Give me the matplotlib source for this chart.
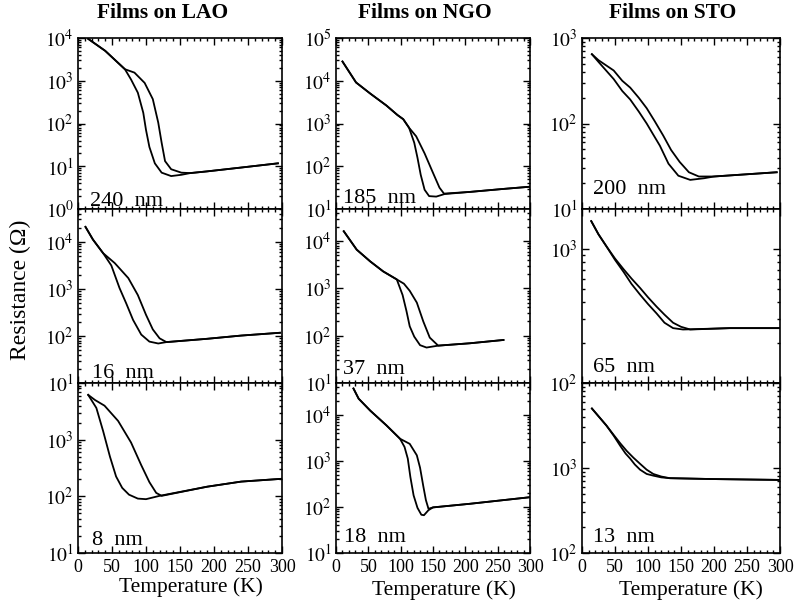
import matplotlib
matplotlib.use('Agg')
import matplotlib.pyplot as plt
from matplotlib.ticker import LogLocator, MultipleLocator, FuncFormatter, NullFormatter
import numpy as np

plt.rcParams['font.family'] = ['Liberation Serif', 'DejaVu Serif']
plt.rcParams['mathtext.fontset'] = 'stix'

# ---------------- data (T in K, R in Ohm) ----------------
# LAO substrate
lao240_T_a = [15, 40, 69, 78, 88, 96, 100, 105, 113, 123, 137, 152, 165, 190, 240, 294]
lao240_R_a = [9550, 5010, 1860, 1070, 525, 178, 70.8, 28.2, 11.7, 7.08, 5.89, 6.31, 6.92, 7.59, 9.33, 11.7]
lao240_T_b = [15, 40, 69, 83, 98, 110, 118, 123, 128, 137, 152, 165, 190, 240, 294]
lao240_R_b = [9550, 5010, 1860, 1550, 891, 372, 105, 35.5, 13.2, 8.51, 7.08, 6.92, 7.59, 9.33, 11.7]

lao16_T_a = [11, 22, 37, 49, 61, 71, 81, 93, 105, 118, 130, 190, 240, 297]
lao16_R_a = [20900, 11200, 5750, 3160, 1050, 490, 219, 107, 75.9, 69.2, 74.1, 87.1, 102, 117]
lao16_T_b = [11, 22, 37, 54, 74, 88, 100, 110, 120, 130, 190, 240, 297]
lao16_R_b = [20900, 11200, 5750, 3550, 1700, 741, 282, 138, 89.1, 74.1, 87.1, 102, 117]

lao8_T_a = [15, 27, 37, 47, 56, 65, 75, 88, 100, 120, 190, 240, 300]
lao8_R_a = [6170, 3630, 1410, 501, 224, 141, 107, 91.2, 89.1, 102, 148, 182, 204]
lao8_T_b = [15, 25, 39, 59, 78, 93, 105, 115, 123, 190, 240, 300]
lao8_R_b = [6170, 5010, 3980, 2140, 891, 355, 178, 115, 102, 148, 182, 204]

# NGO substrate
ngo185_T_a = [10, 31, 53, 78, 95, 104, 113, 121, 126, 131, 137, 144, 155, 168, 207, 259, 299]
ngo185_R_a = [28200, 9120, 5010, 2630, 1580, 1260, 794, 355, 158, 63.1, 28.2, 20.0, 19.5, 22.4, 25.1, 29.5, 33.1]
ngo185_T_b = [10, 31, 53, 78, 95, 104, 113, 124, 137, 149, 160, 167, 207, 259, 299]
ngo185_R_b = [28200, 9120, 5010, 2630, 1580, 1260, 794, 501, 200, 75.9, 31.6, 22.9, 25.1, 29.5, 33.1]

ngo37_T_a = [12, 32, 53, 73, 94, 103, 109, 114, 121, 130, 140, 158, 207, 259]
ngo37_R_a = [16200, 6610, 3720, 2290, 1550, 724, 331, 158, 95.5, 63.1, 56.2, 61.7, 69.2, 81.3]
ngo37_T_b = [12, 32, 53, 73, 94, 105, 114, 125, 135, 145, 158, 207, 259]
ngo37_R_b = [16200, 6610, 3720, 2290, 1550, 1260, 891, 501, 200, 91.2, 61.7, 69.2, 81.3]

ngo18_T_a = [27, 35, 53, 78, 99, 106, 111, 115, 120, 126, 132, 136, 143, 150, 207, 299]
ngo18_R_a = [37200, 22400, 12300, 5890, 3020, 2000, 1120, 447, 178, 95.5, 67.6, 66.1, 85.1, 97.7, 117, 162]
ngo18_T_b = [27, 35, 53, 78, 99, 114, 125, 130, 135, 139, 143, 150, 207, 299]
ngo18_R_b = [37200, 22400, 12300, 5890, 3020, 2340, 1320, 708, 282, 141, 91.2, 97.7, 117, 162]

# STO substrate
sto200_T_a = [15, 25, 48, 61, 73, 86, 98, 108, 118, 131, 146, 164, 185, 200, 295]
sto200_R_a = [646, 525, 331, 240, 191, 138, 100, 74.1, 55.0, 33.9, 24.5, 21.9, 22.9, 24.0, 26.9]
sto200_T_b = [15, 25, 48, 61, 73, 86, 98, 110, 123, 135, 148, 162, 177, 200, 295]
sto200_R_b = [646, 550, 417, 316, 263, 200, 151, 107, 72.4, 49.0, 35.5, 26.9, 24.0, 24.0, 26.9]

sto65_T_a = [14, 25, 37, 50, 63, 75, 88, 100, 113, 125, 138, 153, 224, 300]
sto65_R_a = [1620, 1290, 1050, 832, 676, 550, 457, 389, 331, 282, 257, 251, 257, 257]
sto65_T_b = [14, 25, 37, 50, 63, 75, 88, 100, 113, 125, 138, 150, 164, 224, 300]
sto65_R_b = [1620, 1290, 1050, 851, 708, 603, 513, 437, 372, 324, 282, 263, 251, 257, 257]

sto13_T_a = [15, 26, 37, 48, 58, 66, 73, 80, 88, 98, 108, 120, 133, 199, 300]
sto13_R_a = [5010, 3980, 3160, 2400, 1820, 1480, 1290, 1100, 955, 851, 813, 776, 759, 741, 724]
sto13_T_b = [15, 26, 37, 48, 58, 68, 78, 88, 98, 108, 120, 133, 199, 300]
sto13_R_b = [5010, 3980, 3160, 2450, 1950, 1580, 1320, 1120, 955, 851, 794, 759, 741, 724]

titles = ['Films on LAO', 'Films on NGO', 'Films on STO']
thickness_labels = [['240  nm', '16  nm', '8  nm'],
                    ['185  nm', '37  nm', '18  nm'],
                    ['200  nm', '65  nm', '13  nm']]
x_ticks = [0, 50, 100, 150, 200, 250, 300]

# ---------------- layout ----------------
W, H = 796, 609
cols_px = [(78, 282), (336, 530), (582, 780)]
rows_px = [(38, 209), (209, 383), (383, 553)]

ylims = [[(1, 1e4), (10, 10**4.7), (10, 1e4)],
         [(10, 1e5), (10, 10**4.68), (10, 10**4.69)],
         [(10, 1e3), (100, 10**3.3), (100, 1e4)]]
label_pos = [[(0.06, 0.02), (0.07, 0.03), (0.07, 0.047)],
             [(0.035, 0.035), (0.035, 0.05), (0.04, 0.065)],
             [(0.055, 0.09), (0.055, 0.065), (0.055, 0.065)]]

curves = [
    [[(lao240_T_a, lao240_R_a), (lao240_T_b, lao240_R_b)],
     [(lao16_T_a, lao16_R_a), (lao16_T_b, lao16_R_b)],
     [(lao8_T_a, lao8_R_a), (lao8_T_b, lao8_R_b)]],
    [[(ngo185_T_a, ngo185_R_a), (ngo185_T_b, ngo185_R_b)],
     [(ngo37_T_a, ngo37_R_a), (ngo37_T_b, ngo37_R_b)],
     [(ngo18_T_a, ngo18_R_a), (ngo18_T_b, ngo18_R_b)]],
    [[(sto200_T_a, sto200_R_a), (sto200_T_b, sto200_R_b)],
     [(sto65_T_a, sto65_R_a), (sto65_T_b, sto65_R_b)],
     [(sto13_T_a, sto13_R_a), (sto13_T_b, sto13_R_b)]],
]

fig = plt.figure(figsize=(W / 100, H / 100), dpi=100)


def make_fmt(hide_top, top):
    def f(v, pos):
        if v <= 0:
            return ''
        lv = np.log10(v)
        e = int(round(lv))
        if abs(lv - e) > 1e-6:
            return ''
        if hide_top and v >= top * 0.999:
            return ''
        return r'$10^{%d}$' % e
    return f


for c in range(3):
    x0, x1 = cols_px[c]
    for r in range(3):
        y0, y1 = rows_px[r]
        ax = fig.add_axes([x0 / W, 1 - y1 / H, (x1 - x0) / W, (y1 - y0) / H])
        for T, R in curves[c][r]:
            ax.plot(T, R, color='black', lw=1.3, solid_joinstyle='round')
        ax.set_yscale('log')
        ax.set_xlim(0, 300)
        lo, hi = ylims[c][r]
        ax.set_ylim(lo, hi)
        ax.yaxis.set_major_locator(LogLocator(base=10, numticks=20))
        ax.yaxis.set_minor_locator(LogLocator(base=10, subs=np.arange(2, 10), numticks=20))
        ax.yaxis.set_major_formatter(FuncFormatter(make_fmt(r > 0, hi)))
        ax.yaxis.set_minor_formatter(NullFormatter())
        ax.xaxis.set_major_locator(MultipleLocator(50))
        ax.xaxis.set_minor_locator(MultipleLocator(10))
        if r == 2:
            ax.set_xticks(x_ticks)
            ax.set_xticklabels([str(t) for t in x_ticks])
        else:
            ax.set_xticklabels([])
        ax.tick_params(which='both', direction='in', top=True, right=True, width=1.0)
        ax.tick_params(which='major', length=5)
        ax.tick_params(which='minor', length=2.5)
        ax.tick_params(axis='y', labelsize=14, pad=3)
        ax.tick_params(axis='x', labelsize=13, pad=4)
        for s in ax.spines.values():
            s.set_linewidth(1.2)
        lx, ly = label_pos[c][r]
        ax.text(lx, ly, thickness_labels[c][r], transform=ax.transAxes,
                fontsize=16, ha='left', va='baseline')

title_px = [(163, 13), (425, 13), (673, 13)]
for (tx, ty), t in zip(title_px, titles):
    fig.text(tx / W, 1 - ty / H, t, ha='center', va='center', fontsize=15.5, fontweight='bold')

xlabel_px = [(191, 587), (444, 590), (691, 590)]
for (tx, ty) in xlabel_px:
    fig.text(tx / W, 1 - ty / H, 'Temperature (K)', ha='center', va='center', fontsize=15.5)

fig.text(20 / W, 1 - 290 / H, 'Resistance (\u03a9)', rotation=90, ha='center', va='center', fontsize=17)

fig.savefig('out.png', dpi=100)
